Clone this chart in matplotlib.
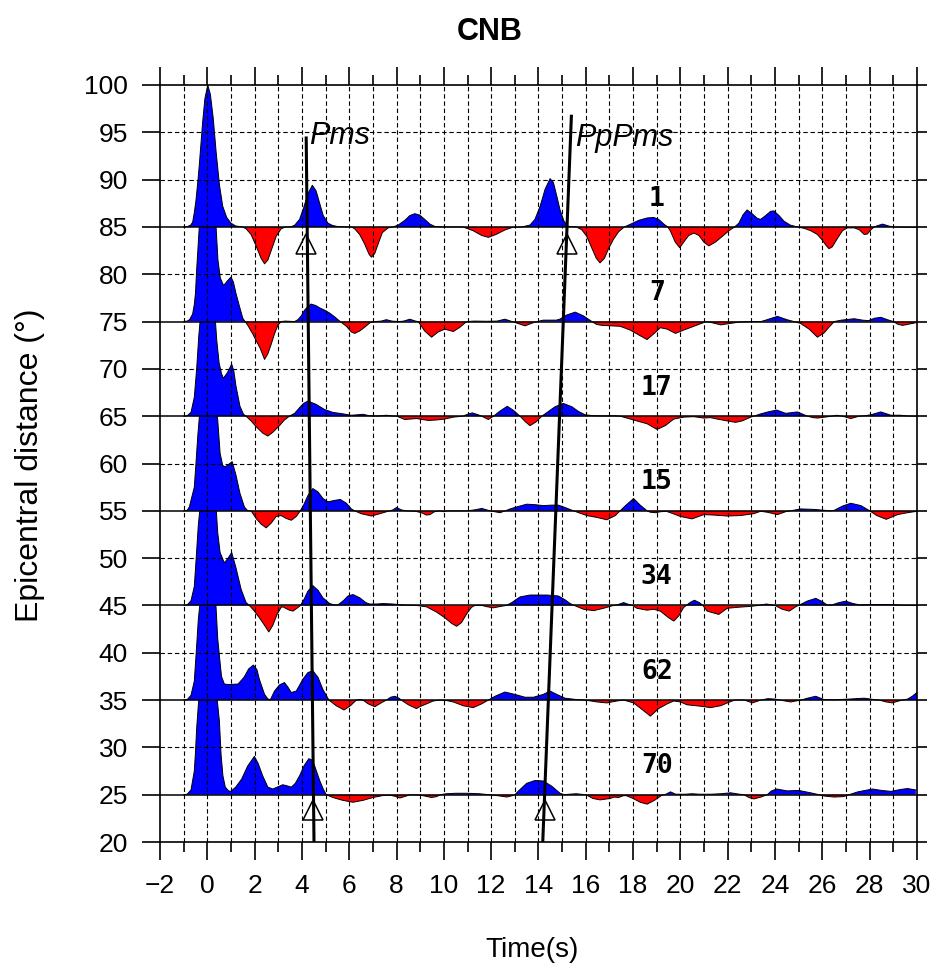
import numpy as np
import matplotlib.pyplot as plt

# receiver function stacks: baseline distance, number of traces in each bin
baselines = [85, 75, 65, 55, 45, 35, 25]
counts = ['1', '7', '17', '15', '34', '62', '70']

t85 = [-1.0, -0.85, -0.7, -0.62, -0.55, -0.48, -0.4, -0.34, -0.27, -0.2, -0.1, 0.02, 0.13, 0.25, 0.37, 0.51, 0.65, 0.82, 1.0, 1.2, 1.5,
       1.64, 1.85, 2.06, 2.27, 2.42, 2.56, 2.7, 2.91, 3.12, 3.3,
       3.55, 3.7, 3.9, 4.07, 4.25, 4.44, 4.6, 4.75, 4.9, 5.1, 5.3, 5.5, 5.9,
       6.1, 6.23, 6.44, 6.65, 6.84, 6.94, 7.08, 7.22, 7.4, 7.64, 7.85,
       8.07, 8.35, 8.56, 8.77, 8.98, 9.19, 9.41, 9.62, 10.0, 10.8,
       11.24, 11.6, 11.88, 12.2, 12.6, 12.9, 13.3,
       13.64, 13.85, 14.07, 14.28, 14.49, 14.63, 14.77, 14.91, 15.08, 15.27, 15.6,
       15.83, 16.04, 16.25, 16.44, 16.6, 16.79, 16.96, 17.17, 17.39, 17.63,
       17.9, 18.24, 18.6, 18.87, 19.08, 19.3, 19.46,
       19.57, 19.78, 19.97, 20.14, 20.35, 20.57, 20.78, 20.99, 21.2, 21.48, 21.77, 22.05, 22.29,
       22.47, 22.65, 22.82, 23.03, 23.25, 23.39, 23.6, 23.81, 23.95, 24.17, 24.38, 24.64, 24.94,
       25.23, 25.51, 25.79, 26.0, 26.14, 26.28, 26.42, 26.64, 26.85, 27.06, 27.35, 27.56, 27.77, 27.9, 28.05, 28.19,
       28.35, 28.55, 28.8, 29.0, 29.5, 30.0]
a85 = [0, 0.02, 0.2, 0.5, 1.5, 2.8, 4.8, 6.5, 8.7, 11.0, 13.6, 15.0, 14.0, 11.5, 8.0, 4.5, 2.2, 1.0, 0.4, 0.1, 0,
       -0.2, -0.8, -2.0, -3.3, -3.9, -3.5, -2.5, -1.0, -0.2, 0,
       0.02, 0.2, 0.8, 2.0, 3.5, 4.4, 3.8, 2.5, 1.2, 0.4, 0.15, 0.05, 0,
       0, -0.2, -0.8, -1.8, -2.9, -3.2, -2.8, -1.8, -0.6, -0.1, 0,
       0.2, 0.7, 1.2, 1.4, 1.25, 0.8, 0.3, 0.05, 0, 0,
       -0.4, -0.9, -1.1, -0.8, -0.3, -0.05, 0,
       0.2, 0.8, 2.2, 4.0, 5.1, 4.7, 3.3, 1.8, 0.6, 0.05, 0,
       -0.3, -1.0, -2.2, -3.3, -3.8, -3.3, -2.3, -1.3, -0.5, 0,
       0.3, 0.7, 0.95, 1.0, 0.8, 0.3, 0,
       -0.4, -1.6, -2.2, -1.6, -0.9, -0.65, -0.9, -1.6, -2.0, -1.6, -1.0, -0.4, 0,
       0.4, 1.3, 1.8, 1.4, 0.9, 0.8, 1.2, 1.65, 1.7, 1.2, 0.6, 0.2, 0,
       -0.15, -0.4, -0.8, -1.4, -1.9, -2.3, -2.1, -1.2, -0.4, -0.1, -0.1, -0.3, -0.8, -0.75, -0.3, 0,
       0.15, 0.3, 0.1, 0, -0.03, -0.05]

t75 = [-1.0, -0.85, -0.75, -0.62, -0.55, -0.5, -0.45, -0.4, -0.34, -0.2, 0.02, 0.2, 0.37, 0.45, 0.55, 0.69, 0.85, 1.0, 1.1, 1.21, 1.36, 1.5, 1.6,
       1.71, 1.92, 2.06, 2.23, 2.42, 2.56, 2.7, 2.84, 2.98, 3.12,
       3.3, 3.55, 3.69, 3.83, 3.97, 4.11, 4.25, 4.39, 4.58, 4.75, 4.96, 5.17, 5.38, 5.62,
       5.88, 6.09, 6.23, 6.44, 6.65, 6.89, 7.1,
       7.35, 7.57, 7.8, 8.1, 8.3, 8.56, 8.8, 8.91,
       9.0, 9.19, 9.48, 9.76, 10.04, 10.4, 10.68, 10.96,
       11.3, 11.8, 12.25, 12.58, 12.85,
       13.0, 13.43, 13.8, 13.95,
       14.2, 14.5, 14.75, 14.9, 15.2, 15.55, 15.9, 16.26,
       16.45, 16.68, 17.03, 17.45, 17.88, 18.3, 18.59, 18.87, 19.15, 19.44, 19.79, 20.14, 20.56, 20.99, 21.1,
       21.3, 21.7, 22.1, 22.5, 23.0, 23.4,
       23.6, 24.1, 24.5, 24.8,
       25.08, 25.44, 25.79, 26.07, 26.28, 26.5,
       26.8, 27.35, 27.7, 27.95, 28.2, 28.47, 28.75, 29.0,
       29.2, 29.4, 29.7, 30.0]
a75 = [0, 0.05, 0.2, 0.8, 1.8, 3.0, 5.5, 7.5, 10.0, 13.5, 15.0, 13.5, 10.0, 6.5, 4.6, 3.8, 4.3, 4.7, 4.2, 3.0, 1.6, 0.35, 0,
       -0.4, -1.3, -2.0, -2.8, -4.0, -3.4, -2.4, -1.3, -0.4, 0,
       0.05, 0.02, 0, 0.2, 0.6, 1.2, 1.6, 1.85, 1.7, 1.45, 1.2, 0.9, 0.5, 0,
       -0.5, -1.1, -1.25, -1.0, -0.6, -0.1, 0,
       0.05, 0.2, 0.05, 0, 0.05, 0.25, 0.05, 0,
       -0.3, -1.0, -1.65, -1.1, -0.8, -1.05, -0.6, 0,
       0.05, 0.03, 0.05, 0.25, 0.03,
       -0.1, -0.45, -0.1, 0,
       0.15, 0.15, 0.15, 0.25, 0.7, 1.0, 0.6, 0,
       -0.3, -0.4, -0.45, -0.5, -0.9, -1.5, -1.9, -1.3, -0.65, -0.8, -1.25, -0.9, -0.5, -0.1, 0,
       -0.1, -0.35, -0.2, -0.05, 0, 0,
       0.15, 0.55, 0.2, 0,
       -0.2, -0.8, -1.65, -1.2, -0.6, 0,
       0.15, 0.3, 0.15, 0.1, 0.35, 0.45, 0.2, 0,
       -0.3, -0.4, -0.25, -0.1]

t65 = [-1.0, -0.85, -0.69, -0.55, -0.45, -0.36, -0.22, 0.02, 0.2, 0.33, 0.4, 0.5, 0.6, 0.68, 0.85, 1.03, 1.12, 1.21, 1.38, 1.53, 1.64,
       1.85, 2.06, 2.35, 2.56, 2.77, 3.05, 3.26, 3.47,
       3.69, 3.9, 4.07, 4.25, 4.6, 4.96, 5.31, 5.73, 6.09, 6.35, 6.58, 6.85, 7.2, 7.57, 7.85, 8.0,
       8.35, 8.84, 9.34, 9.69, 10.04, 10.4, 10.8,
       11.0, 11.2, 11.45, 11.6, 11.88, 12.1,
       12.35, 12.68, 12.95, 13.22,
       13.45, 13.64, 13.9, 14.14,
       14.42, 14.7, 15.05, 15.41, 15.69, 15.97, 16.33, 16.8, 17.2, 17.45,
       17.74, 18.16, 18.59, 19.01, 19.36, 19.72, 20.14, 20.56, 20.99, 21.27, 21.55, 21.98, 22.33, 22.61, 22.97, 23.1,
       23.4, 23.7, 24.07, 24.45, 24.94, 25.37,
       25.6, 25.79, 26.1, 26.4, 26.6, 26.85, 27.2, 27.55,
       27.8, 28.05, 28.47, 28.9, 29.3, 29.6, 30.0]
a65 = [0, 0.05, 0.4, 2.0, 5.0, 8.5, 12.5, 15.0, 13.5, 10.5, 8.0, 5.6, 4.5, 4.0, 4.6, 5.5, 4.8, 3.2, 1.05, 0.2, 0,
       -0.5, -1.1, -1.8, -2.1, -1.7, -1.0, -0.4, 0,
       0.3, 0.9, 1.35, 1.6, 1.25, 0.7, 0.4, 0.25, 0.1, 0.15, 0.2, 0.05, 0.02, 0.1, 0.02, 0,
       -0.35, -0.25, -0.45, -0.4, -0.3, -0.1, 0,
       0.2, 0.35, 0.15, 0, -0.35, 0,
       0.5, 1.05, 0.6, 0,
       -0.6, -1.0, -0.6, 0,
       0.5, 1.0, 1.35, 1.0, 0.5, 0.15, 0.05, 0.03, 0.05, 0,
       -0.2, -0.5, -0.8, -1.4, -1.0, -0.3, -0.1, -0.05, -0.2, -0.15, -0.3, -0.5, -0.65, -0.5, -0.1, 0,
       0.25, 0.45, 0.65, 0.3, 0.45, 0,
       -0.15, -0.2, -0.1, 0, 0.1, 0, -0.25, 0,
       0.05, 0.15, 0.45, 0.1, 0.1, 0.02, 0]

t55 = [-1.0, -0.85, -0.76, -0.55, -0.48, -0.4, -0.25, 0.02, 0.2, 0.35, 0.44, 0.54, 0.65, 0.76, 0.9, 1.05, 1.21, 1.38, 1.57, 1.71,
       1.85, 2.06, 2.27, 2.49, 2.7, 2.91, 3.12, 3.33, 3.55, 3.76, 3.93,
       4.07, 4.25, 4.46, 4.68, 4.89, 5.1, 5.38, 5.62, 5.88, 6.09, 6.23,
       6.5, 6.94, 7.3, 7.71,
       7.85, 8.0, 8.2, 8.4, 8.8, 9.05, 9.26, 9.41, 9.6, 9.83, 10.0, 10.15,
       11.0, 11.3, 11.6, 11.95, 12.37, 12.6,
       12.8, 13.07, 13.5, 13.85, 14.2, 14.56, 14.84, 15.12, 15.48,
       15.7, 16.04, 16.47, 16.89, 17.25, 17.45,
       17.7, 18.02, 18.3, 18.59,
       18.73, 18.95, 19.15, 19.4, 19.58, 20.0, 20.49, 20.99, 21.41, 21.98, 22.54, 23.1, 23.39, 23.67, 24.1, 24.5, 24.66,
       25.08, 25.65, 26.1, 26.36, 26.5, 26.85, 27.2, 27.63, 28.0,
       28.3, 28.7, 29.18, 29.6, 30.0]
a55 = [0, 0.05, 0.4, 2.5, 5.0, 8.0, 12.5, 15.0, 14.0, 11.5, 9.6, 6.1, 4.8, 4.65, 4.9, 5.2, 3.8, 1.85, 0.4, 0,
       0, -0.8, -1.4, -1.8, -1.3, -0.6, -0.5, -0.8, -1.0, -0.6, 0,
       0.6, 1.6, 2.35, 2.0, 1.3, 0.95, 1.1, 1.2, 0.8, 0.2, 0,
       -0.3, -0.55, -0.3, 0,
       0.1, 0.35, 0.1, 0, -0.05, -0.2, -0.45, -0.4, -0.1, 0, -0.1, 0,
       0, 0.1, 0.25, 0, -0.2, 0,
       0.2, 0.4, 0.7, 0.65, 0.55, 0.6, 0.6, 0.35, 0,
       -0.2, -0.5, -0.7, -0.95, -0.5, 0,
       0.6, 1.3, 0.6, 0,
       -0.15, -0.2, -0.1, -0.05, -0.2, -0.6, -0.85, -0.4, -0.45, -0.55, -0.5, -0.3, -0.05, -0.15, -0.4, -0.05, 0,
       0.2, 0.15, 0.05, 0, 0.05, 0.5, 0.8, 0.55, 0,
       -0.5, -0.9, -0.4, -0.2, -0.05]

t45 = [-1.0, -0.85, -0.69, -0.55, -0.47, -0.38, -0.22, 0.02, 0.2, 0.35, 0.44, 0.54, 0.72, 0.88, 1.03, 1.21, 1.43, 1.64, 1.78,
       1.99, 2.2, 2.42, 2.6, 2.77, 2.94, 3.12, 3.2, 3.31, 3.47, 3.62, 3.79, 3.94,
       4.1, 4.25, 4.46, 4.68, 4.89, 5.17, 5.38, 5.52, 5.75, 5.95, 6.16, 6.45, 6.7, 6.86, 7.15, 7.43, 7.85, 8.27, 8.84,
       9.27, 9.69, 10.04, 10.33, 10.54, 10.75, 10.96, 11.17, 11.31, 11.6, 11.85, 12.1, 12.4, 12.65,
       12.87, 13.22, 13.64, 14.35, 14.84, 15.12, 15.34, 15.51,
       15.9, 16.33, 16.75, 17.1, 17.31, 17.6, 17.88, 17.97,
       18.16, 18.59, 18.87, 19.15, 19.5, 19.72, 19.93, 20.14, 20.25,
       20.4, 20.59, 20.8, 20.95,
       21.13, 21.62, 21.98, 22.4, 22.97, 23.3,
       23.5, 23.65, 23.85, 24.0,
       24.3, 24.6, 24.9, 25.0,
       25.35, 25.72, 26.0, 26.2, 26.4, 26.7, 26.99, 27.3, 27.6, 28.0, 28.5, 29.0, 29.4, 30.0]
a45 = [0, 0.05, 0.5, 2.0, 5.0, 8.5, 12.5, 15.0, 13.8, 11.2, 7.7, 5.6, 4.5, 5.0, 5.6, 4.0, 1.7, 0.3, 0,
       -0.6, -1.3, -2.1, -2.8, -2.1, -1.0, -0.2, -0.15, -0.3, -0.5, -0.6, -0.3, 0,
       0.7, 1.5, 2.1, 1.6, 0.8, 0.2, 0.05, 0.05, 0.5, 1.0, 1.15, 0.8, 0.3, 0.15, 0.15, 0.2, 0.15, 0.05, 0,
       -0.15, -0.7, -1.3, -1.9, -2.2, -1.8, -0.9, -0.2, 0, 0, -0.15, -0.25, -0.1, 0,
       0.3, 0.9, 1.1, 1.1, 1.0, 0.6, 0.2, 0,
       -0.4, -0.55, -0.3, -0.05, 0.05, 0.3, 0.05, 0,
       -0.3, -0.5, -0.4, -0.6, -1.3, -1.65, -1.1, -0.2, 0,
       0.3, 0.55, 0.3, 0,
       -0.6, -0.95, -0.3, -0.2, -0.1, 0,
       0.1, 0.15, 0.05, 0,
       -0.4, -0.6, -0.1, 0,
       0.45, 0.75, 0.4, 0.05, 0.05, 0.3, 0.45, 0.2, 0.05, 0.1, 0.1, 0.08, 0.02, 0]

t35 = [-1.0, -0.85, -0.69, -0.55, -0.47, -0.38, -0.22, 0.02, 0.2, 0.35, 0.44, 0.51, 0.6, 0.72, 0.85, 1.0, 1.3, 1.55, 1.75, 1.95, 2.1, 2.2, 2.42, 2.55, 2.66,
       2.84, 3.05, 3.26, 3.4, 3.55, 3.76, 4.04, 4.25, 4.46, 4.68, 4.89, 5.14,
       5.45, 5.78, 6.05, 6.3, 6.44, 6.58,
       6.8, 7.08, 7.35, 7.57,
       7.75, 7.93, 8.1, 8.2,
       8.5, 8.84, 8.98, 9.27, 9.55, 9.83, 10.11, 10.4, 10.82, 11.24, 11.6, 11.88,
       12.16, 12.58, 13.0, 13.43, 13.79, 14.2, 14.49, 14.77, 15.12, 15.62, 15.97,
       16.47, 16.89, 17.31, 17.6,
       18.02, 18.38, 18.73, 19.08, 19.44, 19.72, 20.0, 20.28, 20.85, 21.27, 21.7, 21.98, 22.3, 22.7,
       23.04, 23.4, 23.7, 24.0, 24.2, 24.66, 25.1,
       25.37, 25.72, 26.07, 26.5, 27.1, 27.77, 28.2, 28.4,
       28.7, 28.95, 29.3, 29.6, 29.8, 30.0]
a35 = [0, 0.05, 0.5, 2.0, 5.0, 8.5, 12.5, 15.0, 13.8, 10.7, 6.5, 4.7, 2.5, 1.7, 1.65, 1.65, 1.7, 2.4, 3.3, 3.7, 3.2, 2.2, 0.6, 0.15, 0,
       0.95, 1.6, 1.85, 1.4, 0.8, 0.95, 2.2, 2.9, 3.1, 2.4, 1.1, 0,
       -0.6, -1.05, -0.6, 0, 0.05, 0,
       -0.4, -0.7, -0.3, 0,
       0.3, 0.4, 0.2, 0,
       -0.5, -0.9, -0.7, -0.4, -0.1, 0, -0.05, -0.2, -0.6, -0.8, -0.4, 0,
       0.4, 0.85, 0.6, 0.3, 0.3, 0.6, 0.95, 0.6, 0.2, 0.05, 0,
       -0.2, -0.3, -0.1, 0,
       -0.3, -1.0, -1.7, -0.9, -0.4, -0.1, -0.2, -0.5, -0.65, -0.8, -0.6, -0.3, 0, 0,
       -0.3, 0, 0.15, 0.1, 0, -0.2, 0,
       0.2, 0.4, 0.05, 0.03, 0.1, 0.2, 0.05, 0,
       -0.2, -0.3, -0.05, 0.1, 0.4, 0.8]

t25 = [-1.0, -0.85, -0.69, -0.55, -0.5, -0.45, -0.35, -0.2, 0.02, 0.25, 0.4, 0.51, 0.58, 0.66, 0.76, 0.9, 0.99, 1.2, 1.45, 1.7, 1.99, 2.15, 2.34, 2.56, 2.77, 3.0, 3.19, 3.35, 3.55, 3.72, 3.9, 4.1, 4.29, 4.4, 4.53, 4.75, 4.9, 5.03,
       5.31, 5.73, 6.16, 6.58, 7.0, 7.4, 7.7, 7.9, 8.14, 8.4, 8.6, 9.0, 9.3, 9.48, 9.7, 9.85,
       10.1, 10.5, 11.0, 11.5, 11.9,
       12.1, 12.4, 12.66, 12.9, 13.0,
       13.2, 13.5, 13.85, 14.2, 14.56, 14.91, 15.1, 15.3, 15.6, 15.9, 16.0,
       16.3, 16.6, 17.03, 17.2, 17.38, 17.6, 17.7, 18.0, 18.3, 18.59, 18.9, 19.22, 19.35,
       19.58, 19.8, 20.2, 20.5, 20.8, 21.3, 21.7, 22.12, 22.5, 22.68,
       22.9, 23.1, 23.4, 23.67,
       23.85, 24.07, 24.52, 25.0, 25.5, 25.86,
       26.1, 26.5, 26.9, 27.13,
       27.5, 28.12, 28.5, 28.9, 29.3, 29.6, 29.95]
a25 = [0, 0.05, 0.5, 2.5, 4.5, 7.0, 10.5, 13.5, 15.0, 13.5, 10.5, 7.8, 4.3, 2.0, 0.8, 0.4, 0.35, 0.8, 1.65, 3.0, 4.05, 3.3, 2.0, 0.8, 0.6, 0.85, 1.05, 0.95, 0.8, 1.2, 2.0, 3.1, 3.8, 3.7, 3.1, 1.5, 0.6, 0,
       -0.3, -0.6, -0.8, -0.6, -0.3, -0.1, -0.05, -0.15, -0.35, -0.15, 0, -0.05, -0.2, -0.3, -0.2, 0,
       0.1, 0.15, 0.15, 0.1, 0,
       -0.05, -0.15, -0.25, -0.1, 0,
       0.5, 1.2, 1.5, 1.45, 0.9, 0.15, 0, 0.05, 0.1, 0.02, 0,
       -0.4, -0.55, -0.4, -0.25, -0.3, -0.1, -0.1, -0.4, -0.8, -1.0, -0.6, -0.05, 0,
       0.3, 0.05, 0.05, 0.1, 0.05, 0.05, 0.1, 0.2, 0.05, 0,
       -0.3, -0.45, -0.25, 0,
       0.4, 0.6, 0.4, 0.45, 0.2, 0,
       -0.15, -0.25, -0.2, 0,
       0.3, 0.6, 0.45, 0.35, 0.55, 0.65, 0.5]

# predicted Pms / PpPms moveout lines and arrival markers
pms_t = [4.51, 4.18]
pms_y = [20, 94.4]
ppms_t = [14.18, 15.39]
ppms_y = [20, 96.7]
marker_y = [83.2, 23.4]
pms_mark_t = [4.18, 4.45]
ppms_mark_t = [15.19, 14.28]

traces = {85: (t85, a85), 75: (t75, a75), 65: (t65, a65), 55: (t55, a55),
          45: (t45, a45), 35: (t35, a35), 25: (t25, a25)}

plt.rcParams['font.family'] = ['Liberation Sans', 'DejaVu Sans']

fig = plt.figure(figsize=(9.37, 9.68), dpi=100)
ax = fig.add_axes([160 / 937, 1 - 842 / 968, 757 / 937, 757 / 968])

# draw the lowest trace first so each upper one covers the peak below it
for i, base in enumerate(sorted(baselines)):
    t, a = traces[base]
    t = np.array(t)
    a = np.array(a)
    z = 2 + 0.01 * i
    ax.fill_between(t, base, base + a, where=a >= 0, interpolate=True,
                    color='#0000ff', lw=0, zorder=z)
    ax.fill_between(t, base, base + a, where=a <= 0, interpolate=True,
                    color='#ff0000', lw=0, zorder=z)
    ax.plot(t, base + a, color='black', lw=0.7, zorder=z + 0.005)

# dashed grid over the traces
for x in range(-1, 30):
    ax.axvline(x, color='black', lw=0.8, dashes=(4, 2.5), zorder=3)
for y in range(25, 100, 5):
    if y not in baselines:
        ax.axhline(y, color='black', lw=0.8, dashes=(4, 2.5), zorder=3)
for base in baselines:
    ax.axhline(base, color='black', lw=1.1, zorder=3.1)

for base, n in zip(baselines, counts):
    ax.text(19, base + 3, n, ha='center', va='center', fontsize=19,
            fontweight='bold', family='DejaVu Sans Mono', zorder=5)

ax.plot(pms_t, pms_y, color='black', lw=2.2, zorder=4)
ax.plot(ppms_t, ppms_y, color='black', lw=2.2, zorder=4)
ax.plot(pms_mark_t, marker_y, ls='none', marker='^', ms=15, mfc='none',
        mec='black', mew=1.1, zorder=4)
ax.plot(ppms_mark_t, marker_y, ls='none', marker='^', ms=15, mfc='none',
        mec='black', mew=1.1, zorder=4)
ax.text(4.3, 94.6, 'Pms', fontsize=22, style='italic', ha='left', va='center', zorder=5)
ax.text(15.55, 94.4, 'PpPms', fontsize=22, style='italic', ha='left', va='center', zorder=5)

ax.set_xlim(-2, 30)
ax.set_ylim(20, 100)
ax.set_xticks(np.arange(-2, 31, 2))
ax.set_xticks(np.arange(-1, 30, 2), minor=True)
ax.set_yticks(np.arange(20, 101, 5))
ax.tick_params(which='major', direction='out', length=13, width=1.2,
               labelsize=19, top=True, right=True, labeltop=False, labelright=False)
ax.tick_params(which='minor', direction='out', length=7, width=1.2, top=True)
ax.tick_params(axis='x', pad=10)
ax.tick_params(axis='y', pad=10)
for tk in ax.yaxis.get_major_ticks():
    tk.tick2line.set_markersize(7)
for s in ax.spines.values():
    s.set_linewidth(1.2)

fig.text(490 / 937, 1 - 32 / 968, 'CNB', fontsize=22, fontweight='bold', ha='center', va='center')
fig.text(532 / 937, 1 - 950 / 968, 'Time(s)', fontsize=20, ha='center', va='center')
fig.text(30 / 937, 1 - 465 / 968, 'Epicentral distance (°)', fontsize=23,
         rotation=90, ha='center', va='center')

fig.savefig('out.png', dpi=100)
